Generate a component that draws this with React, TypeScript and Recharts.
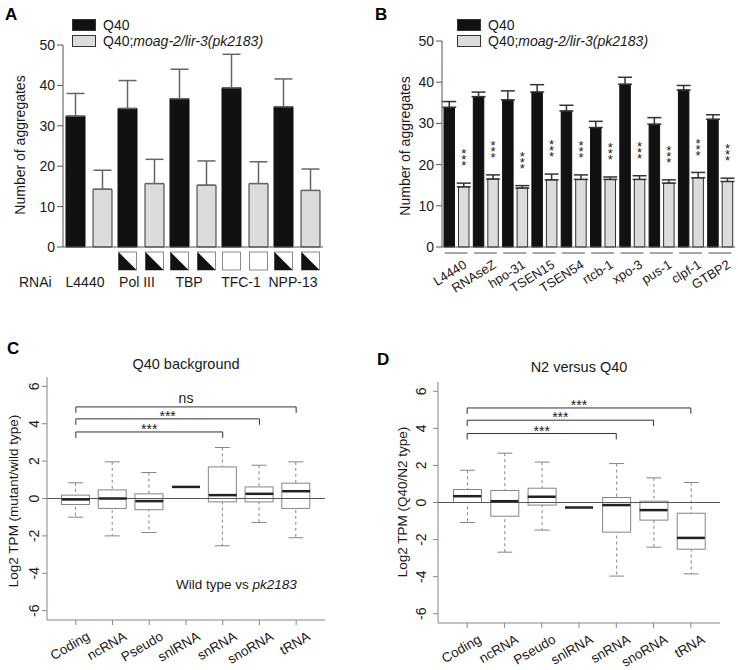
import React from "react";
import {
  BarChart,
  Bar,
  XAxis,
  YAxis,
  ErrorBar,
  ComposedChart,
  Line,
  ReferenceLine,
} from "recharts";

const FONT = "'Liberation Sans', Arial, Helvetica, sans-serif";
const INK = "#1a1a1a";
const AXIS = "#555555";
const FRAME = "#858585";

// legend / series names
const seriesNames = ["Q40", "Q40;moag-2/lir-3(pk2183)"];

// ---- panel A: RNAi of Pol III factors ----
const aRnai = ["L4440", "Pol III", "TBP", "TFC-1", "NPP-13"];
const aQ40 = [32.4, 34.3, 36.7, 39.4, 34.7];
const aQ40Sd = [5.6, 6.9, 7.3, 8.3, 6.9];
const aMut = [14.3, 15.7, 15.3, 15.7, 14.0];
const aMutSd = [4.7, 6.0, 6.0, 5.4, 5.3];
// knockdown marker drawn under each bar: "" none, "half" knockdown, "open" empty
const aMarkQ40 = ["", "half", "half", "open", "half"];
const aMarkMut = ["", "half", "half", "open", "half"];

// ---- panel B: tRNA processing genes ----
const bRnai = ["L4440", "RNAseZ", "hpo-31", "TSEN15", "TSEN54", "rtcb-1", "xpo-3", "pus-1", "clpf-1", "GTBP2"];
const bQ40 = [33.9, 36.5, 35.7, 37.6, 33.0, 29.0, 39.5, 29.8, 38.1, 31.0];
const bQ40Sem = [1.4, 1.1, 2.2, 1.8, 1.4, 1.5, 1.7, 1.6, 1.1, 1.1];
const bMut = [14.6, 16.5, 14.3, 16.3, 16.4, 16.4, 16.4, 15.5, 16.8, 15.9];
const bMutSem = [0.9, 1.0, 0.6, 1.4, 1.1, 0.6, 0.9, 0.8, 1.3, 0.8];
const bSig = ["***", "***", "***", "***", "***", "***", "***", "***", "***", "***"];

// ---- panels C & D: box plots ----
const rnaTypes = ["Coding", "ncRNA", "Pseudo", "snlRNA", "snRNA", "snoRNA", "tRNA"];
const yTicksBox = [-6, -4, -2, 0, 2, 4, 6];

const cLow = [-1.0, -2.0, -1.82, 0.62, -2.53, -1.28, -2.1];
const cQ1 = [-0.32, -0.53, -0.6, 0.62, -0.18, -0.18, -0.53];
const cMed = [-0.05, 0.0, -0.14, 0.62, 0.18, 0.25, 0.39];
const cQ3 = [0.18, 0.46, 0.25, 0.62, 1.69, 0.62, 0.82];
const cHigh = [0.84, 1.96, 1.39, 0.62, 2.73, 1.78, 1.96];
const cBracketTo = ["tRNA", "snoRNA", "snRNA"];
const cBracketY = [4.9, 4.26, 3.56];
const cBracketText = ["ns", "***", "***"];

const dLow = [-1.08, -2.68, -1.49, -0.27, -3.97, -2.41, -3.85];
const dQ1 = [0.0, -0.74, -0.14, -0.27, -1.6, -0.95, -2.52];
const dMed = [0.34, 0.07, 0.31, -0.27, -0.14, -0.41, -1.91];
const dQ3 = [0.7, 0.65, 0.77, -0.27, 0.27, 0.07, -0.58];
const dHigh = [1.74, 2.66, 2.18, -0.27, 2.1, 1.33, 1.08];
const dBracketTo = ["tRNA", "snoRNA", "snRNA"];
const dBracketY = [5.1, 4.44, 3.72];
const dBracketText = ["***", "***", "***"];

const aRows = aRnai.map((name, i) => ({
  name,
  q40: aQ40[i],
  q40Err: [0, aQ40Sd[i]],
  mut: aMut[i],
  mutErr: [0, aMutSd[i]],
}));

const bRows = bRnai.map((name, i) => ({
  name,
  q40: bQ40[i],
  q40Err: [0, bQ40Sem[i]],
  mut: bMut[i],
  mutSem: bMutSem[i],
  mutErr: [0, bMutSem[i]],
  sig: bSig[i],
}));

const textStyle = { fontFamily: FONT, fill: INK };

function LegendBlock({ left, top }: { left: number; top: number }) {
  const fills = ["#111111", "#dcdcdc"];
  return (
    <div style={{ position: "absolute", left, top, fontFamily: FONT, fontSize: 14, color: INK }}>
      {seriesNames.map((n, i) => {
        const [head, tail] = n.split(";");
        return (
          <div key={n} style={{ display: "flex", alignItems: "center", height: 16 }}>
            <div style={{ width: 24, height: 12, background: fills[i], border: "1px solid #333", boxSizing: "border-box", marginRight: 7 }} />
            <span>
              {head}
              {tail !== undefined ? ";" : ""}
              {tail !== undefined ? <i>{tail}</i> : null}
            </span>
          </div>
        );
      })}
    </div>
  );
}

function VLabel({ x, y, text, size = 14 }: { x: number; y: number; text: string; size?: number }) {
  return (
    <div
      style={{
        position: "absolute",
        left: x,
        top: y,
        transform: "translate(-50%, -50%) rotate(-90deg)",
        whiteSpace: "nowrap",
        fontFamily: FONT,
        fontSize: size,
        color: INK,
      }}
    >
      {text}
    </div>
  );
}

function PanelLetter({ x, y, t }: { x: number; y: number; t: string }) {
  return (
    <div style={{ position: "absolute", left: x, top: y, fontFamily: FONT, fontSize: 17, fontWeight: 700, lineHeight: "17px" }}>
      {t}
    </div>
  );
}

function KnockdownBox({ cx, y, kind }: { cx: number; y: number; kind: string }) {
  const s = 18;
  const x = cx - s / 2;
  return (
    <g>
      <rect x={x} y={y} width={s} height={s} fill="#fff" stroke="#8a8a8a" />
      {kind === "half" && <polygon points={`${x},${y} ${x + s},${y + s} ${x},${y + s}`} fill="#111" />}
    </g>
  );
}

function RnaiTick(props: any) {
  const { x, payload } = props;
  const i = payload.index;
  return (
    <g>
      {aMarkQ40[i] && <KnockdownBox cx={x - 13.5} y={252} kind={aMarkQ40[i]} />}
      {aMarkMut[i] && <KnockdownBox cx={x + 13.5} y={252} kind={aMarkMut[i]} />}
      <text x={x - 4} y={287} textAnchor="middle" fontSize={14} {...textStyle}>
        {payload.value}
      </text>
      {i === 0 && (
        <text x={19} y={287} fontSize={14} {...textStyle}>
          RNAi
        </text>
      )}
    </g>
  );
}

function GeneTick(props: any) {
  const { x, payload } = props;
  const tx = x + 11;
  const ty = 267;
  return (
    <g>
      <line x1={x - 12} x2={x + 11} y1={253} y2={253} stroke="#8a8a8a" strokeWidth={1.5} />
      <text x={tx} y={ty} transform={`rotate(-32 ${tx} ${ty})`} textAnchor="end" fontSize={13} {...textStyle}>
        {payload.value}
      </text>
    </g>
  );
}

// gray bar of panel B, with its significance stars set as a vertical column above the error bar
function MutBarWithStars(props: any) {
  const { x, y, width, height, payload } = props;
  if (!(height > 0)) return null;
  const cx = x + width / 2;
  const ppu = height / payload.mut;
  const sy = y - payload.mutSem * ppu - 6.5 * ppu;
  return (
    <g>
      <rect x={x} y={y} width={width} height={height} fill="#dcdcdc" stroke="#333" />
      <text
        x={cx}
        y={sy - 1}
        textAnchor="middle"
        fontSize={13}
        style={{ writingMode: "vertical-rl", textOrientation: "upright", letterSpacing: "-9px" } as any}
        {...textStyle}
      >
        {payload.sig}
      </text>
    </g>
  );
}

function PanelA() {
  return (
    <div style={{ position: "absolute", left: 0, top: 0, width: 370, height: 300 }}>
      <BarChart width={370} height={300} data={aRows} margin={{ top: 45, right: 47, bottom: 0, left: 0 }} barSize={19} barGap={8}>
        <XAxis dataKey="name" height={53} interval={0} axisLine={{ stroke: AXIS }} tickLine={false} tick={<RnaiTick />} />
        <YAxis
          width={63}
          domain={[0, 50]}
          ticks={[0, 10, 20, 30, 40, 50]}
          axisLine={{ stroke: AXIS }}
          tickLine={{ stroke: AXIS }}
          tickSize={6}
          tick={{ fontSize: 14, fill: INK, fontFamily: FONT }}
        />
        <Bar dataKey="q40" fill="#111" stroke="#111" isAnimationActive={false}>
          <ErrorBar dataKey="q40Err" width={9} stroke="#666" strokeWidth={1.5} />
        </Bar>
        <Bar dataKey="mut" fill="#dcdcdc" stroke="#333" isAnimationActive={false}>
          <ErrorBar dataKey="mutErr" width={9} stroke="#666" strokeWidth={1.5} />
        </Bar>
      </BarChart>
      <LegendBlock left={72} top={17} />
      <VLabel x={20} y={145} text="Number of aggregates" />
      <PanelLetter x={5} y={6} t="A" />
    </div>
  );
}

function PanelB() {
  return (
    <div style={{ position: "absolute", left: 370, top: 0, width: 368, height: 300 }}>
      <BarChart width={368} height={300} data={bRows} margin={{ top: 41, right: 3, bottom: 0, left: 0 }} barSize={10.5} barGap={4}>
        <XAxis dataKey="name" height={53} interval={0} axisLine={{ stroke: AXIS }} tickLine={false} tick={<GeneTick />} />
        <YAxis
          width={72}
          domain={[0, 50]}
          ticks={[0, 10, 20, 30, 40, 50]}
          axisLine={{ stroke: AXIS }}
          tickLine={{ stroke: AXIS }}
          tickSize={6}
          tick={{ fontSize: 14, fill: INK, fontFamily: FONT }}
        />
        <Bar dataKey="q40" fill="#111" stroke="#111" isAnimationActive={false}>
          <ErrorBar dataKey="q40Err" width={7} stroke="#333" strokeWidth={1.5} />
        </Bar>
        <Bar dataKey="mut" shape={<MutBarWithStars />} isAnimationActive={false}>
          <ErrorBar dataKey="mutErr" width={7} stroke="#333" strokeWidth={1.5} />
        </Bar>
      </BarChart>
      <LegendBlock left={87} top={17} />
      <VLabel x={35} y={146} text="Number of aggregates" />
      <PanelLetter x={5} y={6} t="B" />
    </div>
  );
}

function WhiskerShape(props: any) {
  const { x, y, width, height } = props;
  if (!(height > 0.5)) return null;
  const cx = x + width / 2;
  const cap = 7.5;
  return (
    <g stroke={FRAME} strokeWidth={1}>
      <line x1={cx} x2={cx} y1={y} y2={y + height} strokeDasharray="3 3" />
      <line x1={cx - cap} x2={cx + cap} y1={y} y2={y} />
      <line x1={cx - cap} x2={cx + cap} y1={y + height} y2={y + height} />
    </g>
  );
}

function BoxShape(props: any) {
  const { x, y, width, height } = props;
  if (!(height > 0.5)) return null;
  return <rect x={x} y={y} width={width} height={height} fill="#fff" stroke={FRAME} />;
}

function BoxTick(props: any) {
  const { x, y, payload } = props;
  const tx = x + 15;
  const ty = y + 12;
  return (
    <text x={tx} y={ty} transform={`rotate(-30 ${tx} ${ty})`} textAnchor="end" fontSize={13.5} {...textStyle}>
      {payload.value}
    </text>
  );
}

function RotYTick(props: any) {
  const { x, y, payload } = props;
  return (
    <text x={x} y={y} transform={`rotate(-90 ${x} ${y})`} textAnchor="middle" fontSize={14} {...textStyle}>
      {payload.value}
    </text>
  );
}

function BracketLabel(props: any) {
  const vb = props.viewBox || {};
  const cx = vb.x + (vb.width || 0) / 2;
  return (
    <text x={cx} y={vb.y + props.lift} textAnchor="middle" fontSize={14} {...textStyle}>
      {props.text}
    </text>
  );
}

type BoxProps = {
  width: number;
  height: number;
  plotTop: number;
  axisH: number;
  yW: number;
  rightM: number;
  tickGap: number;
  low: number[];
  q1: number[];
  med: number[];
  q3: number[];
  high: number[];
  bTo: string[];
  bY: number[];
  bText: string[];
};

function BoxChart(p: BoxProps) {
  const rows = rnaTypes.map((name, i) => ({
    name,
    whisk: [p.low[i], p.high[i]],
    box: [p.q1[i], p.q3[i]],
    med: p.med[i],
  }));
  const PAD = 10.5;
  const drop = 0.32;
  return (
    <ComposedChart width={p.width} height={p.height} data={rows} margin={{ top: p.plotTop, right: p.rightM, bottom: 0, left: 0 }}>
      <XAxis
        dataKey="name"
        height={p.axisH}
        padding={{ left: PAD, right: PAD }}
        interval={0}
        axisLine={{ stroke: FRAME }}
        tickLine={{ stroke: FRAME }}
        tickSize={5}
        tickMargin={2}
        tick={<BoxTick />}
      />
      <XAxis dataKey="name" xAxisId="box" padding={{ left: PAD, right: PAD }} hide />
      <XAxis xAxisId="frame" orientation="top" height={0} tick={false} tickLine={false} axisLine={{ stroke: FRAME }} />
      <YAxis
        width={p.yW}
        domain={[-6.5, 6.5]}
        ticks={yTicksBox}
        allowDataOverflow
        axisLine={{ stroke: FRAME }}
        tickLine={{ stroke: FRAME }}
        tickSize={5}
        tickMargin={p.tickGap}
        tick={<RotYTick />}
      />
      <YAxis yAxisId="frame" orientation="right" width={0} domain={[0, 1]} tick={false} tickLine={false} axisLine={{ stroke: FRAME }} />
      <ReferenceLine y={0} stroke="#555" />
      <Bar dataKey="whisk" barSize={28} shape={<WhiskerShape />} isAnimationActive={false} />
      <Bar dataKey="box" xAxisId="box" barSize={28} shape={<BoxShape />} isAnimationActive={false} />
      <Line
        dataKey="med"
        stroke="none"
        activeDot={false}
        isAnimationActive={false}
        dot={(d: any) => (
          <line key={`med-${d.index}`} x1={d.cx - 14} x2={d.cx + 14} y1={d.cy} y2={d.cy} stroke="#222" strokeWidth={2.5} />
        )}
      />
      {p.bTo.map((to, i) => [
        <ReferenceLine
          key={`h${i}`}
          position="middle"
          segment={[
            { x: "Coding", y: p.bY[i] },
            { x: to, y: p.bY[i] },
          ]}
          stroke="#333"
          label={<BracketLabel text={p.bText[i]} lift={p.bText[i] === "ns" ? -4 : 2} />}
        />,
        <ReferenceLine
          key={`l${i}`}
          position="middle"
          segment={[
            { x: "Coding", y: p.bY[i] },
            { x: "Coding", y: p.bY[i] - drop },
          ]}
          stroke="#333"
        />,
        <ReferenceLine
          key={`r${i}`}
          position="middle"
          segment={[
            { x: to, y: p.bY[i] },
            { x: to, y: p.bY[i] - drop },
          ]}
          stroke="#333"
        />,
      ])}
    </ComposedChart>
  );
}

function PanelC() {
  return (
    <div style={{ position: "absolute", left: 0, top: 330, width: 370, height: 340 }}>
      <BoxChart
        width={370}
        height={340}
        plotTop={47}
        axisH={50}
        yW={47}
        rightM={45}
        tickGap={3}
        low={cLow}
        q1={cQ1}
        med={cMed}
        q3={cQ3}
        high={cHigh}
        bTo={cBracketTo}
        bY={cBracketY}
        bText={cBracketText}
      />
      <div style={{ position: "absolute", left: 186, top: 27, transform: "translateX(-50%)", fontFamily: FONT, fontSize: 14.5, lineHeight: "14.5px", whiteSpace: "nowrap", color: INK }}>
        Q40 background
      </div>
      <div style={{ position: "absolute", left: 176, top: 248, fontFamily: FONT, fontSize: 13.5, lineHeight: "13.5px", whiteSpace: "nowrap", color: INK }}>
        Wild type vs <i>pk2183</i>
      </div>
      <VLabel x={13} y={171} text="Log2 TPM (mutant/wild type)" size={13.5} />
      <PanelLetter x={7} y={10} t="C" />
    </div>
  );
}

function PanelD() {
  return (
    <div style={{ position: "absolute", left: 370, top: 330, width: 368, height: 340 }}>
      <BoxChart
        width={368}
        height={340}
        plotTop={52}
        axisH={47}
        yW={68}
        rightM={18}
        tickGap={7}
        low={dLow}
        q1={dQ1}
        med={dMed}
        q3={dQ3}
        high={dHigh}
        bTo={dBracketTo}
        bY={dBracketY}
        bText={dBracketText}
      />
      <div style={{ position: "absolute", left: 209, top: 30, transform: "translateX(-50%)", fontFamily: FONT, fontSize: 14.5, lineHeight: "14.5px", whiteSpace: "nowrap", color: INK }}>
        N2 versus Q40
      </div>
      <VLabel x={32} y={172} text="Log2 TPM (Q40/N2 type)" size={13.5} />
      <PanelLetter x={7} y={21} t="D" />
    </div>
  );
}

export default function App() {
  return (
    <div style={{ position: "absolute", left: 0, top: 0, width: 738, height: 670, background: "#fff", overflow: "hidden" }}>
      <PanelA />
      <PanelB />
      <PanelC />
      <PanelD />
    </div>
  );
}
